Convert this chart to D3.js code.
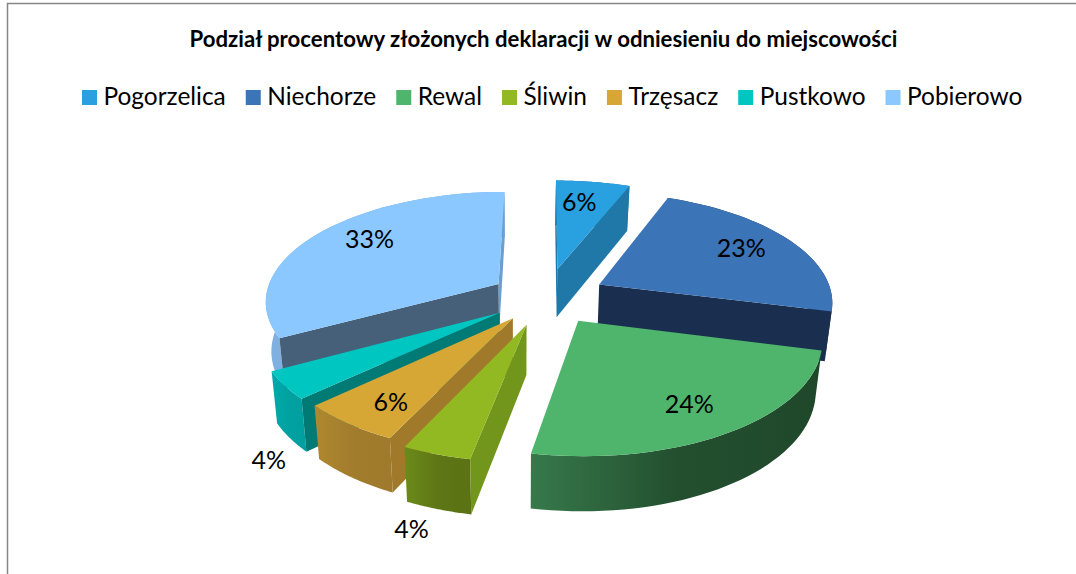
<!DOCTYPE html>
<html><head><meta charset="utf-8">
<script src="https://cdn.jsdelivr.net/npm/d3@7/dist/d3.min.js"></script>
<style>html,body{margin:0;padding:0;background:#fff;overflow:hidden}svg{display:block}text{font-family:Lato,sans-serif;fill:#000}</style>
</head><body><svg id="c" width="1076" height="574"></svg>
<script>
const titleText = "Podział procentowy złożonych deklaracji w odniesieniu do miejscowości";
const categories = ["Pogorzelica","Niechorze","Rewal","Śliwin","Trzęsacz","Pustkowo","Pobierowo"];
const values = [6,23,24,4,6,4,33];
const topColors  = ["#29a0e0","#3c74b8","#50b56c","#92b822","#d6a735","#00c6c2","#8ac8ff"];
const faceColors = ["#1f78a8","#1a2f50","#214b2c","#72961c","#a07a2a","#007a74","#456078"];
const endFaceColors = ["#1f78a8","#1a2f50","#214b2c","#72961c","#a07a2a","#007a74","#6a9fd0"];
const rimLeft  = ["#1f78a8","#1a2f50","#37794b","#6b8b1a","#b08830","#00aaaa","#7fb0e0"];
const rimRight = ["#1f78a8","#1a2f50","#1f482a","#5c7214","#a07a2c","#009f9f","#7aaee0"];
const explode = [0.27,0.26,0.25,0.26,0.235,0.24,0.24];
const drawOrder = [0,6,1,2,5,4,3];
const labelDX = [22,142,111,-115,-122,-231,-129];
const labelDY = [-67,-36,84,205,84,148,-44];

const svg = d3.select("#c");
const defs = svg.append("defs");
const color = d3.scaleOrdinal(categories, topColors);
const cx = 546, cy = 297, R0 = 233.5, Ry0 = 108.7, k = 0.143, vp = 520;

// frame
svg.append("path").attr("d","M7.5,574V3.5H1076").attr("fill","none").attr("stroke","#868686").attr("stroke-width",1.5);

// title
svg.append("text").attr("x",543.5).attr("y",47).attr("text-anchor","middle")
  .attr("font-size",22.2).attr("font-weight",700).text(titleText);

// legend
let lx = 82;
const legend = svg.append("g");
categories.forEach(c=>{
  legend.append("rect").attr("x",lx).attr("y",90).attr("width",15).attr("height",15).attr("fill",color(c));
  const t = legend.append("text").attr("x",lx+21.5).attr("y",105).attr("font-size",24.45).text(c);
  lx += 21.5 + t.node().getComputedTextLength() + 20;
});

const pie = d3.pie().sort(null).value(d=>d);
const arcs = pie(values);
const lineGen = d3.line();

function world(wx,wy){
  const s=1/(1-k*wy);
  return [cx+R0*wx*s, cy+Ry0*wy*s];
}
function apexWorld(a){
  const m=(a.startAngle+a.endAngle)/2, e=explode[a.index];
  return [e*Math.sin(m), -e*Math.cos(m)];
}
function proj(aw,ang,f){
  return world(aw[0]+Math.sin(ang)*f, aw[1]-Math.cos(ang)*f);
}
function under(p){
  return [vp+(p[0]-vp)*0.978, p[1]+45+0.0376*(p[1]-187)];
}
function cross(a,b){return a[0]*b[1]-a[1]*b[0];}
function faceVisible(A,B,C){
  const AB=[B[0]-A[0],B[1]-A[1]], d=[under(A)[0]-A[0],under(A)[1]-A[1]], AC=[C[0]-A[0],C[1]-A[1]];
  return cross(AB,d)*cross(AB,AC)<0;
}

const pies = svg.append("g");
drawOrder.forEach(i=>{
  const a=arcs[i], aw=apexWorld(a), A=world(aw[0],aw[1]);
  const angs=d3.range(0,41).map(n=>a.startAngle+(a.endAngle-a.startAngle)*n/40);
  const rim=angs.map(t=>proj(aw,t,1));
  const S=rim[0], E=rim[40], M=proj(aw,(a.startAngle+a.endAngle)/2,0.6);
  const gid="rim"+i;
  const g=defs.append("linearGradient").attr("id",gid);
  g.append("stop").attr("offset",0).attr("stop-color",rimLeft[i]);
  g.append("stop").attr("offset",0.5).attr("stop-color",d3.interpolateRgb(rimLeft[i],rimRight[i])(0.85));
  g.append("stop").attr("offset",1).attr("stop-color",rimRight[i]);
  const sl=pies.append("g");
  sl.append("path").attr("d",lineGen(rim.concat(rim.slice().reverse().map(under)))+"Z").attr("fill",`url(#${gid})`);
  if(faceVisible(A,S,M)) sl.append("path").attr("d",lineGen([A,S,under(S),under(A)])+"Z").attr("fill",faceColors[i]);
  if(faceVisible(A,E,M)) sl.append("path").attr("d",lineGen([A,E,under(E),under(A)])+"Z").attr("fill",endFaceColors[i]);
  sl.append("path").attr("d",lineGen([A].concat(rim))+"Z").attr("fill",topColors[i]);
});

// labels
arcs.forEach(a=>{
  const aw=apexWorld(a), ap=world(aw[0],aw[1]), i=a.index;
  svg.append("text").attr("x",ap[0]+labelDX[i]).attr("y",ap[1]+labelDY[i]+8.5)
    .attr("text-anchor","middle").attr("font-size",25).text(values[i]+"%");
});
</script></body></html>
